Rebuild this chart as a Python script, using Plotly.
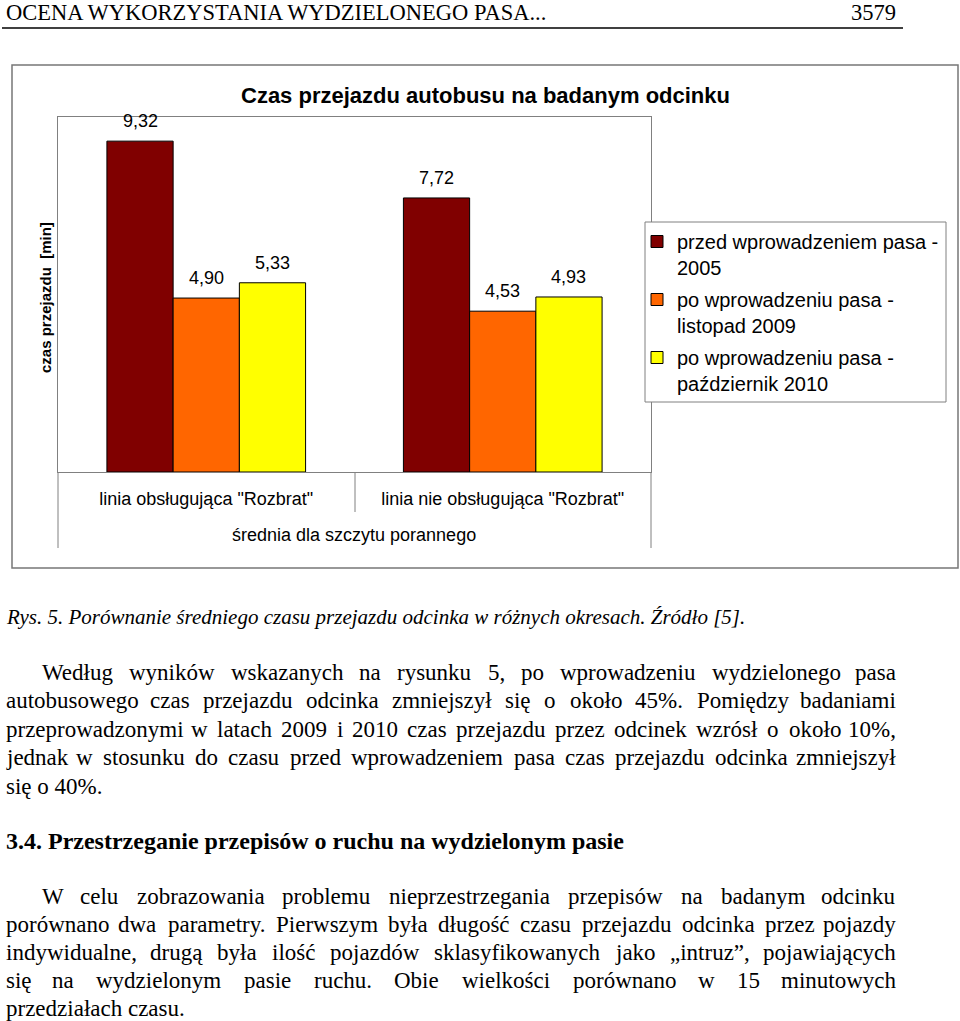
import plotly.graph_objects as go

W, H = 960, 1021

def px(x):
    return x / W

def py(y):
    return 1 - y / H

# ---------------- chart data ----------------
categories = ['linia obsługująca "Rozbrat"', 'linia nie obsługująca "Rozbrat"']
outer_label = "średnia dla szczytu porannego"
series_names = [
    "przed wprowadzeniem pasa -<br>2005",
    "po wprowadzeniu pasa -<br>listopad 2009",
    "po wprowadzeniu pasa -<br>październik 2010",
]
values_2005 = [9.32, 7.72]
values_2009 = [4.90, 4.53]
values_2010 = [5.33, 4.93]
series_values = [values_2005, values_2009, values_2010]
series_colors = ["#800000", "#FF6600", "#FFFF00"]
chart_title = "Czas przejazdu autobusu na badanym odcinku"
y_title = "czas przejazdu  [min]"

# ---------------- page text ----------------
header_left = "OCENA WYKORZYSTANIA WYDZIELONEGO PASA..."
header_right = "3579"
caption = "Rys. 5. Porównanie średniego czasu przejazdu odcinka w różnych okresach. Źródło [5]."
para1 = [
    "Według wyników wskazanych na rysunku 5, po wprowadzeniu wydzielonego pasa",
    "autobusowego czas przejazdu odcinka zmniejszył się o około 45%. Pomiędzy badaniami",
    "przeprowadzonymi w latach 2009 i 2010 czas przejazdu przez odcinek wzrósł o około 10%,",
    "jednak w stosunku do czasu przed wprowadzeniem pasa czas przejazdu odcinka zmniejszył",
    "się o 40%.",
]
heading = "3.4. Przestrzeganie przepisów o ruchu na wydzielonym pasie"
para2 = [
    "W celu zobrazowania problemu nieprzestrzegania przepisów na badanym odcinku",
    "porównano dwa parametry. Pierwszym była długość czasu przejazdu odcinka przez pojazdy",
    "indywidualne, drugą była ilość pojazdów sklasyfikowanych jako „intruz”, pojawiających",
    "się na wydzielonym pasie ruchu. Obie wielkości porównano w 15 minutowych",
    "przedziałach czasu.",
]

fig = go.Figure()
for name, vals, col in zip(series_names, series_values, series_colors):
    fig.add_trace(go.Bar(
        x=categories, y=vals, name=name, legendgroup=name,
        marker=dict(color=col, line=dict(color="#000000", width=1)),
        hoverinfo="skip",
    ))

annotations = []
# value labels above bars
shifts = [-66, 0, 66]
for vals, sh in zip(series_values, shifts):
    for cat, v in zip(categories, vals):
        annotations.append(dict(
            x=cat, y=v, xref="x", yref="y", text=f"{v:.2f}".replace(".", ","),
            showarrow=False, xshift=sh, yshift=20, yanchor="middle",
            font=dict(family="Liberation Sans", size=18, color="#000"),
        ))

sans = "Liberation Sans"
serif = "Liberation Serif"

def ann(x, y, text, size, family=serif, xanchor="left", **kw):
    d = dict(x=px(x), y=py(y), xref="paper", yref="paper", text=text, showarrow=False,
             xanchor=xanchor, yanchor="middle",
             font=dict(family=family, size=size, color="#000", **kw.pop("fontkw", {})))
    d.update(kw)
    annotations.append(d)

# chart title / axis title / outer category label
ann(485, 95, chart_title, 22, family=sans, xanchor="center", fontkw=dict(weight="bold"))
ann(45, 298, y_title, 15, family=sans, xanchor="center", textangle=-90, fontkw=dict(weight="bold"))
ann(354, 535, outer_label, 18, family=sans, xanchor="center")

# Times New Roman metrics (per 1000 em)
TNR = {' ': 250, 'a': 444, 'b': 500, 'c': 444, 'd': 500, 'e': 444, 'f': 333, 'g': 500, 'h': 500,
       'i': 278, 'j': 278, 'k': 500, 'l': 278, 'm': 778, 'n': 500, 'o': 500, 'p': 500, 'q': 500,
       'r': 333, 's': 389, 't': 278, 'u': 500, 'v': 500, 'w': 722, 'x': 500, 'y': 500, 'z': 444,
       'A': 722, 'B': 667, 'C': 667, 'D': 722, 'E': 611, 'F': 556, 'G': 722, 'H': 722, 'I': 333,
       'J': 389, 'K': 722, 'L': 611, 'M': 889, 'N': 722, 'O': 722, 'P': 556, 'Q': 722, 'R': 667,
       'S': 556, 'T': 611, 'U': 722, 'V': 722, 'W': 944, 'X': 722, 'Y': 722, 'Z': 611,
       ',': 250, '.': 250, '%': 833, '(': 333, ')': 333, '[': 333, ']': 333, '-': 333,
       '„': 444, '”': 444, ':': 278, 'ł': 278, 'ą': 444, 'ę': 444, 'ó': 500, 'ś': 389, 'ć': 444,
       'ż': 444, 'ź': 444, 'ń': 500, 'Ź': 611, 'Ś': 556, 'Ż': 611}
for dgt in "0123456789":
    TNR[dgt] = 500

BODY = 23

def wwidth(w, size):
    return sum(TNR.get(c, 500) for c in w) * size / 1000

def justified(line, y, left, right, size=BODY):
    words = line.split()
    ws = [wwidth(w, size) for w in words]
    gap = (right - left - sum(ws)) / (len(words) - 1)
    x = left
    for i, (w, wd) in enumerate(zip(words, ws)):
        if i == 0:
            ann(left, y, w, size)
        elif i == len(words) - 1:
            ann(right, y, w, size, xanchor="right")
        else:
            ann(x + wd / 2, y, w, size, xanchor="center")
        x += wd + gap

LEFT, RIGHT, INDENT = 4, 898, 40

ann(LEFT, 12, header_left, 22.5)
ann(RIGHT, 12, header_right, 22.5, xanchor="right")
ann(LEFT, 617, caption, 21, fontkw=dict(style="italic"))

ys1 = [672, 700, 729, 757, 786]
for i, (line, y) in enumerate(zip(para1, ys1)):
    if i == len(para1) - 1:
        ann(LEFT, y, line, BODY)
    else:
        justified(line, y, INDENT if i == 0 else LEFT, RIGHT)

ann(LEFT, 841, heading, 24, fontkw=dict(weight="bold"))

ys2 = [896, 924, 952, 980, 1008]
for i, (line, y) in enumerate(zip(para2, ys2)):
    if i == len(para2) - 1:
        ann(LEFT, y, line, BODY)
    else:
        justified(line, y, INDENT if i == 0 else LEFT, RIGHT)

gray = "#808080"
shapes = [
    # header rule
    dict(type="line", xref="paper", yref="paper", x0=px(2), x1=px(903), y0=py(28), y1=py(28),
         line=dict(color="#000", width=1.5)),
    # outer chart frame
    dict(type="rect", xref="paper", yref="paper", x0=px(12), x1=px(958), y0=py(65), y1=py(568),
         line=dict(color="#777", width=1.5), layer="below"),
    # category axis separators
    dict(type="line", xref="paper", yref="paper", x0=px(58), x1=px(58), y0=py(472), y1=py(548),
         line=dict(color=gray, width=1)),
    dict(type="line", xref="paper", yref="paper", x0=px(651), x1=px(651), y0=py(472), y1=py(548),
         line=dict(color=gray, width=1)),
    dict(type="line", xref="paper", yref="paper", x0=px(355), x1=px(355), y0=py(472), y1=py(512),
         line=dict(color=gray, width=1)),
    # legend box
    dict(type="rect", xref="paper", yref="paper", x0=px(645), x1=px(946), y0=py(222), y1=py(402),
         line=dict(color=gray, width=1), fillcolor="#FFFFFF", layer="above"),
]

fig.update_layout(
    width=W, height=H,
    margin=dict(l=0, r=0, t=0, b=0),
    paper_bgcolor="#FFFFFF", plot_bgcolor="rgba(0,0,0,0)",
    barmode="group", bargap=0.33, bargroupgap=0,
    showlegend=True,
    legend=dict(
        x=px(637), y=py(222), xanchor="left", yanchor="top",
        bgcolor="rgba(0,0,0,0)", borderwidth=0, valign="top",
        tracegroupgap=3,
        font=dict(family=sans, size=20, color="#000"),
    ),
    xaxis=dict(
        domain=[px(58), px(651)], showgrid=False, ticks="", showline=True, mirror=True,
        linecolor=gray, linewidth=1, ticklabelstandoff=10,
        tickfont=dict(family=sans, size=18, color="#000"), fixedrange=True,
    ),
    yaxis=dict(
        domain=[py(472), py(117)], range=[0, 10], showgrid=False, showticklabels=False,
        ticks="", showline=True, mirror=True, linecolor=gray, linewidth=1, zeroline=False,
        fixedrange=True,
    ),
    annotations=annotations,
    shapes=shapes,
)

fig.write_html("out.html")
